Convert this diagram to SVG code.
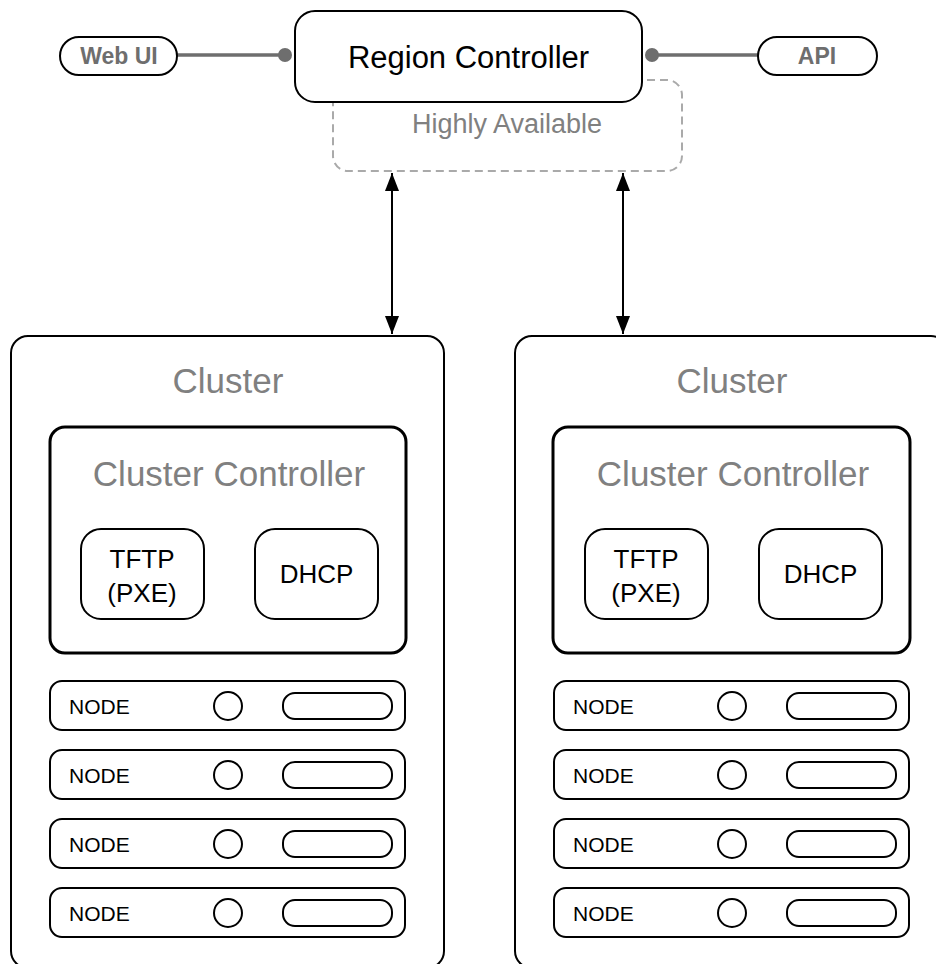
<svg xmlns="http://www.w3.org/2000/svg" width="936" height="964" viewBox="0 0 936 964">
  <defs>
    <style>
      text { font-family: "Liberation Sans", Arial, Helvetica, sans-serif; }
      .box { fill: #ffffff; stroke: #000000; stroke-width: 2; }
      .cc { fill: #ffffff; stroke: #000000; stroke-width: 3; }
      .ha { fill: none; stroke: #aaaaaa; stroke-width: 2; stroke-dasharray: 8 5; }
      .pill { fill: #ffffff; stroke: #000000; stroke-width: 2; }
      .tap { fill: none; stroke: #6e6e6e; stroke-width: 3.5; }
      .dot { fill: #6e6e6e; }
      .lbl-grey { fill: #808080; text-anchor: middle; }
      .lbl-black { fill: #000000; text-anchor: middle; }
      .lbl-bold { fill: #6e6e6e; font-weight: bold; text-anchor: middle; font-size: 23px; }
      .link { stroke: #000000; stroke-width: 2; fill: none; }
      .node-text { fill: #000000; font-size: 21px; }
    </style>
    <marker id="arrow" viewBox="0 0 18 14" refX="18" refY="7" markerWidth="18" markerHeight="14" markerUnits="userSpaceOnUse" orient="auto-start-reverse">
      <path d="M0,0 L18,7 L0,14 Z" fill="#000000"/>
    </marker>
    <!-- one node row: label, status light, slot -->
    <g id="node-row">
      <rect x="0" y="0" width="355" height="49" rx="12" class="box"/>
      <text x="19" y="33" class="node-text">NODE</text>
      <circle cx="178" cy="25" r="14" class="box"/>
      <rect x="233" y="12" width="109" height="26" rx="12" class="box"/>
    </g>
  </defs>

  <!-- highly-available outline behind the region controller -->
  <g id="ha-group">
    <rect x="333" y="80" width="349" height="91" rx="15" class="ha"/>
    <text x="507" y="133" font-size="27" class="lbl-grey">Highly Available</text>
  </g>

  <g id="connectors">
    <line x1="177" y1="55" x2="285" y2="55" class="tap"/>
    <circle cx="285" cy="55" r="7" class="dot"/>
    <line x1="652" y1="55" x2="758" y2="55" class="tap"/>
    <circle cx="652" cy="55" r="7" class="dot"/>
    <line x1="392" y1="173" x2="392" y2="334" class="link" marker-start="url(#arrow)" marker-end="url(#arrow)"/>
    <line x1="623" y1="173" x2="623" y2="334" class="link" marker-start="url(#arrow)" marker-end="url(#arrow)"/>
  </g>

  <g id="web-ui">
    <rect x="60" y="37" width="117" height="38" rx="19" class="pill"/>
    <text x="119" y="64" class="lbl-bold">Web UI</text>
  </g>

  <g id="api">
    <rect x="758" y="37" width="119" height="38" rx="19" class="pill"/>
    <text x="817" y="64" class="lbl-bold">API</text>
  </g>

  <g id="region-controller">
    <rect x="295" y="11" width="347" height="91" rx="20" class="box"/>
    <text x="468.5" y="68" font-size="31" class="lbl-black">Region Controller</text>
  </g>

  <!-- left cluster -->
  <g id="cluster-1">
    <rect x="11" y="336" width="433" height="632" rx="17" class="box"/>
    <text x="228" y="393" font-size="35" class="lbl-grey">Cluster</text>
    <g id="cluster-controller-1">
      <rect x="50" y="427" width="356" height="226" rx="15" class="cc"/>
      <text x="229" y="486" font-size="35" class="lbl-grey">Cluster Controller</text>
    </g>
    <g id="tftp-1">
      <rect x="81" y="529" width="123" height="90" rx="20" class="box"/>
      <text x="142" y="568" font-size="26" class="lbl-black">TFTP</text>
      <text x="142" y="602" font-size="26" class="lbl-black">(PXE)</text>
    </g>
    <g id="dhcp-1">
      <rect x="255" y="529" width="123" height="90" rx="20" class="box"/>
      <text x="316.5" y="583" font-size="26" class="lbl-black">DHCP</text>
    </g>
    <use id="node-1a" href="#node-row" x="50" y="681"/>
    <use id="node-1b" href="#node-row" x="50" y="750"/>
    <use id="node-1c" href="#node-row" x="50" y="819"/>
    <use id="node-1d" href="#node-row" x="50" y="888"/>
  </g>

  <!-- right cluster -->
  <g id="cluster-2">
    <rect x="515" y="336" width="433" height="632" rx="17" class="box"/>
    <text x="732" y="393" font-size="35" class="lbl-grey">Cluster</text>
    <g id="cluster-controller-2">
      <rect x="553" y="427" width="357" height="226" rx="15" class="cc"/>
      <text x="733" y="486" font-size="35" class="lbl-grey">Cluster Controller</text>
    </g>
    <g id="tftp-2">
      <rect x="585" y="529" width="123" height="90" rx="20" class="box"/>
      <text x="646" y="568" font-size="26" class="lbl-black">TFTP</text>
      <text x="646" y="602" font-size="26" class="lbl-black">(PXE)</text>
    </g>
    <g id="dhcp-2">
      <rect x="759" y="529" width="123" height="90" rx="20" class="box"/>
      <text x="820.5" y="583" font-size="26" class="lbl-black">DHCP</text>
    </g>
    <use id="node-2a" href="#node-row" x="554" y="681"/>
    <use id="node-2b" href="#node-row" x="554" y="750"/>
    <use id="node-2c" href="#node-row" x="554" y="819"/>
    <use id="node-2d" href="#node-row" x="554" y="888"/>
  </g>
</svg>
